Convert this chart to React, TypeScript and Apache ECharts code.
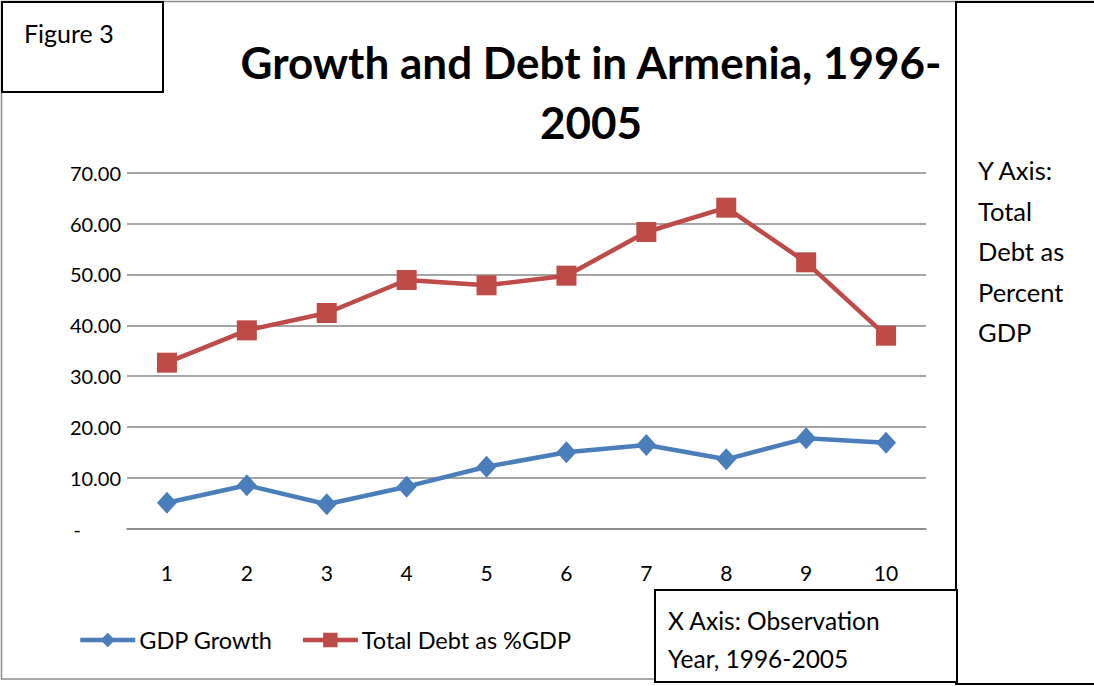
import React, { useEffect, useRef } from "react";
import * as echarts from "echarts";

const years = ["1", "2", "3", "4", "5", "6", "7", "8", "9", "10"];
const gdpGrowth = [5.11, 8.53, 4.8, 8.26, 12.19, 15.02, 16.46, 13.64, 17.77, 16.91];
const totalDebt = [32.64, 39.0, 42.41, 48.9, 47.86, 49.75, 58.34, 63.12, 52.38, 37.95];
const titleLines = ["Growth and Debt in Armenia, 1996-", "2005"];
const yNoteLines = ["Y Axis:", "Total", "Debt as", "Percent", "GDP"];
const xNoteLines = ["X Axis: Observation", "Year, 1996-2005"];

const FONT = "Lato, 'Noto Sans', sans-serif";

export default function App() {
  const ref = useRef<HTMLDivElement>(null);
  useEffect(() => {
    document.body.style.margin = "0";
    const chart = echarts.init(ref.current!, null, { renderer: "svg" });
    const graphics: any[] = [];
    graphics.push({
      type: "rect",
      shape: { x: 1.5, y: 1.5, width: 1200, height: 677.5 },
      style: { fill: "none", stroke: "#8c8c8c", lineWidth: 1.5 },
      z: 1,
    });
    graphics.push({
      type: "rect",
      shape: { x: 2, y: 2, width: 161, height: 90 },
      style: { fill: "#fff", stroke: "#000", lineWidth: 2 },
      z: 10,
    });
    graphics.push({
      type: "text",
      x: 24,
      y: 33,
      style: { text: "Figure 3", font: `25px ${FONT}`, fill: "#000", textVerticalAlign: "middle" },
      z: 11,
    });
    titleLines.forEach((t, i) => {
      graphics.push({
        type: "text",
        x: 591,
        y: 62 + i * 60,
        style: {
          text: t,
          font: `bold 44px ${FONT}`,
          fill: "#000",
          textAlign: "center",
          textVerticalAlign: "middle",
        },
        z: 11,
      });
    });
    graphics.push({
      type: "rect",
      shape: { x: 956, y: 2, width: 200, height: 682 },
      style: { fill: "#fff", stroke: "#000", lineWidth: 2 },
      z: 10,
    });
    yNoteLines.forEach((t, i) => {
      graphics.push({
        type: "text",
        x: 978,
        y: 170 + i * 40.5,
        style: { text: t, font: `25.5px ${FONT}`, fill: "#000", textVerticalAlign: "middle" },
        z: 11,
      });
    });
    graphics.push({
      type: "rect",
      shape: { x: 655, y: 590, width: 302, height: 92 },
      style: { fill: "#fff", stroke: "#000", lineWidth: 2 },
      z: 10,
    });
    xNoteLines.forEach((t, i) => {
      graphics.push({
        type: "text",
        x: 668,
        y: 620 + i * 38,
        style: { text: t, font: `24.5px ${FONT}`, fill: "#000", textVerticalAlign: "middle" },
        z: 11,
      });
    });

    chart.setOption({
      animation: false,
      backgroundColor: "#fff",
      grid: { left: 127, right: 168, top: 172.7, bottom: 157.3 },
      xAxis: {
        type: "category",
        data: years,
        boundaryGap: true,
        axisLine: { show: true, lineStyle: { color: "#868686", width: 1.5 } },
        axisTick: { show: false },
        axisLabel: { margin: 33, fontSize: 21, color: "#000", fontFamily: FONT },
      },
      yAxis: {
        type: "value",
        min: 0,
        max: 70,
        interval: 10,
        axisLine: { show: false },
        axisTick: { show: false },
        splitLine: { lineStyle: { color: "#868686", width: 1.5 } },
        axisLabel: {
          margin: 6,
          fontSize: 20,
          color: "#000",
          fontFamily: FONT,
          formatter: (v: number) => (v === 0 ? "{dash|-}" : v.toFixed(2)),
          rich: {
            dash: { fontSize: 20, color: "#000", fontFamily: FONT, padding: [0, 40, 0, 0] },
          },
        },
      },
      legend: {
        left: 78,
        top: 628,
        padding: 0,
        itemWidth: 55,
        itemHeight: 18,
        itemGap: 28,
        lineStyle: { width: 4.5 },
        textStyle: { fontSize: 23.5, color: "#000", fontFamily: FONT, padding: [0, 0, 0, -1] },
        data: ["GDP Growth", "Total Debt as %GDP"],
      },
      graphic: graphics,
      series: [
        {
          name: "GDP Growth",
          type: "line",
          data: gdpGrowth,
          symbol: "diamond",
          symbolSize: [20, 22],
          lineStyle: { color: "#4a7ebb", width: 4.5 },
          itemStyle: { color: "#4a7ebb" },
          z: 3,
        },
        {
          name: "Total Debt as %GDP",
          type: "line",
          data: totalDebt,
          symbol: "rect",
          symbolSize: 20,
          lineStyle: { color: "#be4b48", width: 4.5 },
          itemStyle: { color: "#be4b48" },
          z: 3,
        },
      ],
    });
    return () => chart.dispose();
  }, []);
  return <div ref={ref} style={{ width: 1094, height: 686 }} />;
}
